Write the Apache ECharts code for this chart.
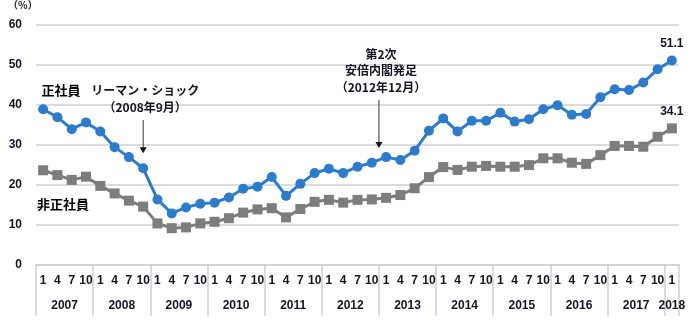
<!DOCTYPE html>
<html>
<head>
<meta charset="utf-8">
<script src="https://cdn.jsdelivr.net/npm/echarts@6/dist/echarts.min.js"></script>
<style>
  html, body { margin: 0; padding: 0; background: #fff; }
  #chart { width: 700px; height: 325px; }
</style>
</head>
<body>
<div id="chart"></div>
<script>
// Quarterly share (%) of companies reporting a shortage of workers, 2007 Q1 – 2018 Q1
const years = ['2007','2008','2009','2010','2011','2012','2013','2014','2015','2016','2017','2018'];
const quarterMonths = ['1','4','7','10'];

// 正社員 (regular employees)
const regular = [
  38.9, 36.9, 33.9, 35.6, 33.3, 29.4, 26.9, 24.1,
  16.3, 12.8, 14.3, 15.2, 15.5, 16.8, 19.0, 19.5,
  21.9, 17.2, 20.2, 22.9, 24.0, 22.9, 24.5, 25.5,
  26.9, 26.2, 28.5, 33.5, 36.6, 33.3, 36.0, 36.0,
  38.0, 35.8, 36.4, 38.9, 39.9, 37.5, 37.7, 41.9,
  43.9, 43.7, 45.6, 48.9, 51.1
];

// 非正社員 (non-regular employees)
const nonRegular = [
  23.6, 22.4, 21.2, 22.0, 19.7, 17.8, 16.0, 14.5,
  10.3, 9.1, 9.3, 10.3, 10.7, 11.6, 13.0, 13.8,
  14.1, 11.8, 13.9, 15.7, 16.2, 15.5, 16.2, 16.3,
  16.7, 17.4, 19.1, 21.9, 24.4, 23.7, 24.5, 24.7,
  24.5, 24.5, 24.9, 26.6, 26.6, 25.5, 25.2, 27.4,
  29.7, 29.7, 29.5, 32.0, 34.1
];

const yTicks = [0, 10, 20, 30, 40, 50, 60];

// Event markers: category position (quarter index) plus arrow top/bottom in %
const events = [
  { lines: ['リーマン・ショック', '（2008年9月）'], at: 7, from: 36.2, to: 27.9 },
  { lines: ['第2次', '安倍内閣発足', '（2012年12月）'], at: 23.5, from: 41.2, to: 29.2 }
];

// Category list: one entry per quarter
const categories = [];
years.forEach(y => {
  const qs = y === '2018' ? ['1'] : quarterMonths;
  qs.forEach(q => categories.push(y + '-' + q));
});

// Secondary axis on half-quarter boundaries: year names at the middle of each year block
const nSlots = categories.length * 2 + 1;
const yearSlots = new Array(nSlots).fill('');
years.forEach((y, k) => {
  const start = k * 8;
  const len = y === '2018' ? 2 : 8;
  yearSlots[start + len / 2] = y;
});
const isYearBoundary = i => i % 8 === 0 || i === nSlots - 1;

const blue = '#2b7bce';
const gray = '#7d7d7d';
const textColor = '#141423';
const gridColor = '#cfcfcf';
const last = categories.length - 1;

const chart = echarts.init(document.getElementById('chart'), null, { renderer: 'canvas' });

const option = {
  animation: false,
  backgroundColor: '#ffffff',
  grid: { left: 36, right: 21, top: 25, bottom: 60.5, containLabel: false },
  xAxis: [
    {
      type: 'category',
      data: categories,
      boundaryGap: true,
      axisLine: { show: true, lineStyle: { color: gridColor, width: 1.5 } },
      axisTick: { show: false },
      axisLabel: {
        interval: 0,
        margin: 10,
        color: textColor,
        fontFamily: 'Liberation Sans',
        fontWeight: 'bold',
        fontSize: 12,
        formatter: v => v.split('-')[1]
      },
      splitLine: { show: false }
    },
    {
      type: 'category',
      data: yearSlots,
      boundaryGap: false,
      position: 'bottom',
      axisLine: { show: false },
      axisTick: {
        show: true,
        inside: false,
        length: 51,
        interval: (i) => isYearBoundary(i),
        lineStyle: { color: gridColor, width: 1.5 }
      },
      axisLabel: {
        interval: (i, v) => v !== '',
        margin: 35,
        color: textColor,
        fontFamily: 'Liberation Sans',
        fontWeight: 'bold',
        fontSize: 12
      },
      splitLine: { show: false }
    }
  ],
  yAxis: {
    type: 'value',
    min: yTicks[0],
    max: yTicks[yTicks.length - 1],
    interval: 10,
    axisLine: { show: false },
    axisTick: { show: false },
    axisLabel: {
      margin: 14,
      color: textColor,
      fontFamily: 'Liberation Sans',
      fontWeight: 'bold',
      fontSize: 12
    },
    splitLine: { show: true, lineStyle: { color: gridColor, width: 1.5 } }
  },
  series: [
    {
      name: '非正社員',
      type: 'line',
      data: nonRegular,
      symbol: 'rect',
      symbolSize: 10,
      lineStyle: { color: gray, width: 3 },
      itemStyle: { color: gray },
      z: 2,
      label: {
        show: true,
        position: 'top',
        distance: 6,
        color: textColor,
        fontFamily: 'Liberation Sans',
        fontWeight: 'bold',
        fontSize: 12,
        formatter: p => (p.dataIndex === last ? p.value.toFixed(1) : '')
      }
    },
    {
      name: '正社員',
      type: 'line',
      data: regular,
      symbol: 'circle',
      symbolSize: 10,
      lineStyle: { color: blue, width: 3 },
      itemStyle: { color: blue },
      z: 3,
      label: {
        show: true,
        position: 'top',
        distance: 6,
        color: textColor,
        fontFamily: 'Liberation Sans',
        fontWeight: 'bold',
        fontSize: 12,
        formatter: p => (p.dataIndex === last ? p.value.toFixed(1) : '')
      }
    }
  ]
};

chart.setOption(option);

// Annotations: unit label, series names and event callouts with arrows
const cjkFont = '"Noto Sans CJK JP", sans-serif';
const px = (idx, val) => {
  const a = chart.convertToPixel({ gridIndex: 0 }, [0, val]);
  const b = chart.convertToPixel({ gridIndex: 0 }, [1, val]);
  return [a[0] + (b[0] - a[0]) * idx, a[1]];
};

const graphics = [
  {
    type: 'text', left: 8, top: 0,
    style: { text: '（%）', fill: textColor, font: 'bold 10px ' + cjkFont }
  },
  {
    type: 'text', x: 61, y: 90,
    style: { text: '正社員', fill: '#000', font: 'bold 13px ' + cjkFont, align: 'center', verticalAlign: 'middle' }
  },
  {
    type: 'text', x: 63, y: 204,
    style: { text: '非正社員', fill: '#000', font: 'bold 13px ' + cjkFont, align: 'center', verticalAlign: 'middle' }
  }
];

const lineGap = 16.5;
events.forEach(ev => {
  const top = px(ev.at, ev.from);
  const bottom = px(ev.at, ev.to);
  const cx = top[0] + 2;
  const firstY = top[1] - 10 - (ev.lines.length - 1) * lineGap - 3;
  ev.lines.forEach((t, i) => {
    graphics.push({
      type: 'text', x: cx, y: firstY + i * lineGap,
      style: { text: t, fill: textColor, font: 'bold 12px ' + cjkFont, align: 'center', verticalAlign: 'middle' }
    });
  });
  graphics.push({
    type: 'line',
    shape: { x1: top[0], y1: top[1], x2: bottom[0], y2: bottom[1] - 5 },
    style: { stroke: '#333', lineWidth: 1 }
  });
  graphics.push({
    type: 'polygon',
    shape: { points: [[bottom[0] - 3.5, bottom[1] - 6], [bottom[0] + 3.5, bottom[1] - 6], [bottom[0], bottom[1]]] },
    style: { fill: '#111' }
  });
});

chart.setOption({ graphic: graphics });
</script>
</body>
</html>
